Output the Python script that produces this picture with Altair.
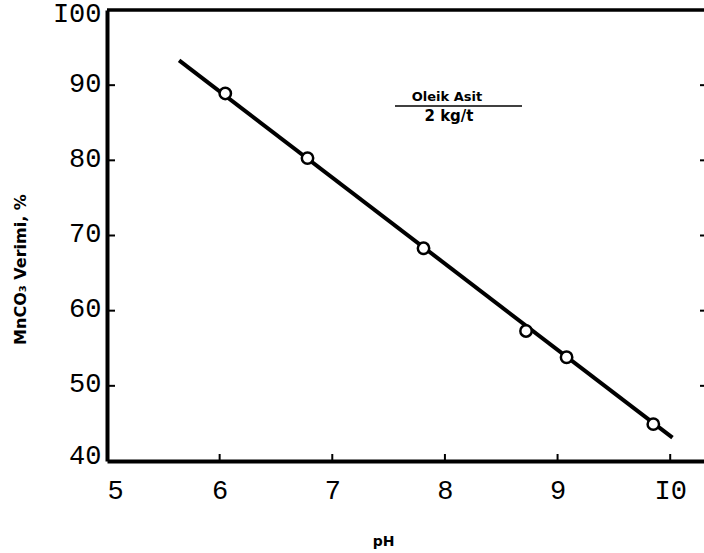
import altair as alt
import pandas as pd

# Data
ph = [6.05, 6.78, 7.81, 8.72, 9.08, 9.85]
verim = [88.9, 80.3, 68.3, 57.3, 53.8, 44.9]
fit_ph = [5.64, 10.02]
fit_verim = [93.3, 43.1]
x_ticks = [5, 6, 7, 8, 9, 10]
y_ticks = [40, 50, 60, 70, 80, 90, 100]
y_inner_ticks = [50, 60, 70, 80, 90]

W, H = 597, 451
FONT_MONO = "Liberation Mono"
FONT_SANS = "DejaVu Sans"

pts = pd.DataFrame({"ph": ph, "verim": verim})
fit = pd.DataFrame({"ph": fit_ph, "verim": fit_verim})
xt = pd.DataFrame({"t": x_ticks[1:]})
yt = pd.DataFrame({"v": y_inner_ticks})

xs = alt.Scale(domain=[5, 10.3], nice=False, zero=False)
ys = alt.Scale(domain=[40, 100], nice=False, zero=False)

x_axis = alt.Axis(
    values=x_ticks, labelExpr="datum.value == 10 ? 'I0' : datum.label",
    labelFont=FONT_MONO, labelFontSize=27, labelColor="black",
    labelPadding=16, labelBaseline="top", ticks=False, tickSize=0,
    domainColor="black", domainWidth=4, grid=False,
    title="pH", titleFont=FONT_SANS, titleFontWeight="bold", titleFontSize=14,
    titleColor="black", titleX=276, titleY=80, titleBaseline="middle",
)
y_axis = alt.Axis(
    values=y_ticks, labelExpr="datum.value == 100 ? 'I00' : datum.label",
    labelFont=FONT_MONO, labelFontSize=27, labelColor="black",
    labelPadding=6, labelBaseline="middle",
    labelOffset={"condition": [{"test": "datum.value == 100", "value": 3},
                               {"test": "datum.value == 40", "value": -6}],
                 "value": -2},
    ticks=False, tickSize=0,
    domainColor="black", domainWidth=4, grid=False,
    title="MnCO₃ Verimi, %", titleFont=FONT_SANS, titleFontWeight="bold",
    titleFontSize=16, titleColor="black", titleAngle=270,
    titleX=-87, titleY=259, titleAlign="center", titleBaseline="middle",
)

line = alt.Chart(fit).mark_line(color="black", strokeWidth=4, clip=True).encode(
    x=alt.X("ph:Q", scale=xs, axis=x_axis),
    y=alt.Y("verim:Q", scale=ys, axis=y_axis),
)
points = alt.Chart(pts).mark_point(
    shape="circle", filled=False, fill="white", fillOpacity=1,
    stroke="black", strokeWidth=2.5, size=130, opacity=1,
).encode(
    x=alt.X("ph:Q", scale=xs, axis=x_axis),
    y=alt.Y("verim:Q", scale=ys, axis=y_axis),
)
left_ticks = alt.Chart(yt).mark_rule(color="black", strokeWidth=2).encode(
    y=alt.Y("v:Q", scale=ys, axis=y_axis), x=alt.value(0), x2=alt.value(8)
)
right_ticks = alt.Chart(yt).mark_rule(color="black", strokeWidth=2).encode(
    y=alt.Y("v:Q", scale=ys, axis=y_axis), x=alt.value(W - 4), x2=alt.value(W)
)
bottom_ticks = alt.Chart(xt).mark_rule(color="black", strokeWidth=2).encode(
    x=alt.X("t:Q", scale=xs, axis=x_axis), y=alt.value(H), y2=alt.value(H - 7)
)
top_border = alt.Chart(pd.DataFrame({"v": [100]})).mark_rule(color="black", strokeWidth=3.5).encode(
    y=alt.Y("v:Q", scale=ys, axis=y_axis), x=alt.value(0), x2=alt.value(W)
)

legend_df = pd.DataFrame({"a": [0]})
legend_top = alt.Chart(legend_df).mark_text(
    text="Oleik Asit", font=FONT_SANS, fontWeight="bold", fontSize=13,
    color="black", align="center", baseline="middle",
).encode(x=alt.value(340), y=alt.value(87))
legend_rule = alt.Chart(legend_df).mark_rule(color="black", strokeWidth=1.5).encode(
    x=alt.value(288), x2=alt.value(415), y=alt.value(96)
)
legend_bot = alt.Chart(legend_df).mark_text(
    text="2 kg/t", font=FONT_SANS, fontWeight="bold", fontSize=15,
    color="black", align="center", baseline="middle",
).encode(x=alt.value(342), y=alt.value(106))

chart = alt.layer(
    line, points, top_border, left_ticks, right_ticks, bottom_ticks,
    legend_top, legend_rule, legend_bot,
).properties(
    width=W, height=H,
    autosize=alt.AutoSizeParams(type="none"),
    padding={"left": 107, "top": 10, "right": 0, "bottom": 92},
    background="white",
).configure_view(stroke=None)

chart.save("out.html", embed_options={"renderer": "svg", "actions": False})
